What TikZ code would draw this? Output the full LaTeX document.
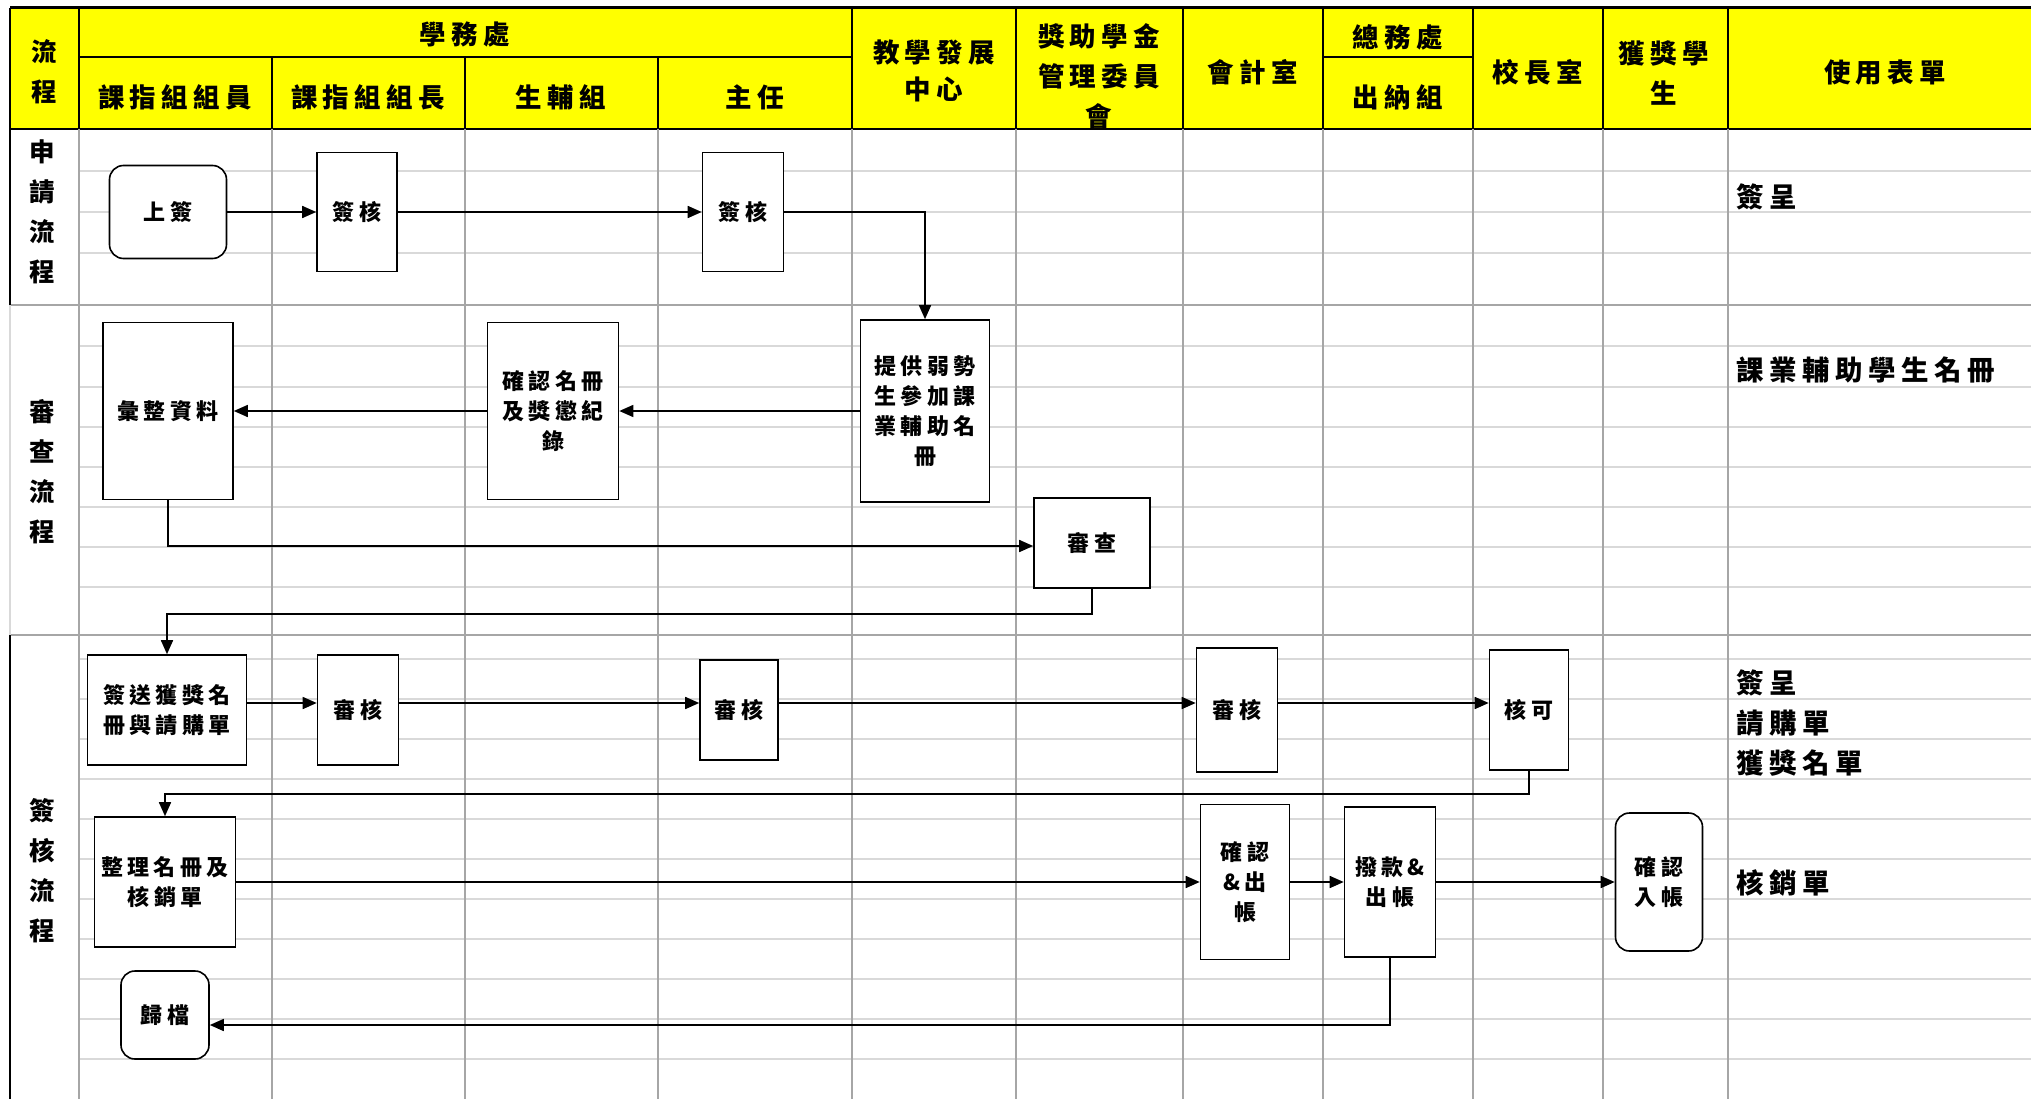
\documentclass[tikz,border=0pt]{standalone}
\usepackage{fontspec}
\newfontfamily\cjk[LetterSpace=20]{Noto Sans CJK TC}
\usetikzlibrary{arrows.meta, calc}
\definecolor{hdryellow}{HTML}{FFFF00}
\definecolor{lanegray}{HTML}{A6A6A6}
\definecolor{rowgray}{HTML}{D9D9D9}

\begin{document}
\begin{tikzpicture}[x=1pt, y=-1pt,
  hdr/.style={font=\cjk\bfseries\fontsize{26.5}{40}\selectfont, align=center, inner sep=0pt},
  lanelbl/.style={hdr, font=\cjk\bfseries\fontsize{25.5}{40}\selectfont},
  procbox/.style={draw, fill=white, line width=1.6pt, align=center, inner sep=2pt,
    font=\cjk\bfseries\fontsize{22}{30}\selectfont},
  termbox/.style={procbox, rounded corners=14pt},
  formtext/.style={anchor=west, inner sep=0pt, font=\cjk\bfseries\fontsize{27.5}{30}\selectfont},
  flow/.style={line width=1.6pt, -{Triangle[length=14pt, width=12pt]}}]

  \useasboundingbox (0,0) rectangle (2031,1099);
  \clip (0,0) rectangle (2031,1099);

  % header band
  \fill[hdryellow] (10,8) rectangle (2040,129);
  \foreach \x in {79,852,1016,1183,1323,1473,1603,1728}
    \draw[line width=2pt] (\x,8) -- (\x,129);
  \foreach \x in {272,465,658}
    \draw[line width=2pt] (\x,57) -- (\x,129);
  \draw[line width=2pt] (79,57) -- (852,57) (1323,57) -- (1473,57);
  \draw[line width=2pt] (10,8) -- (10,129) -- (2040,129);
  \draw[line width=3pt] (10,8) -- (2040,8);

  % body grid
  \foreach \y in {171,212,253,346,387,427,467,507,547,587,659,699,739,779,819,859,899,939,979,1019,1059}
    \draw[rowgray, line width=2pt] (79,\y) -- (2040,\y);
  \foreach \x in {79,272,465,658,852,1016,1183,1323,1473,1603,1728}
    \draw[lanegray, line width=1.5pt] (\x,129) -- (\x,1099);
  \draw[lanegray, line width=2pt] (10,305) -- (2040,305) (10,635) -- (2040,635);
  \draw[line width=1.5pt] (10,129) -- (10,305);
  \draw[rowgray, line width=1.5pt] (10,305) -- (10,635);
  \draw[line width=1.5pt] (10,635) -- (10,1099);

  % header texts
  \node[lanelbl] (hflow) at (44,72) {流\\程};
  \node[hdr] (hstu) at (465,34) {學務處};
  \node[hdr] (hmem) at (175,97) {課指組組員};
  \node[hdr] (hlead) at (368,97) {課指組組長};
  \node[hdr] (hguide) at (561,97) {生輔組};
  \node[hdr] (hdir) at (755,97) {主任};
  \node[hdr, font=\cjk\bfseries\fontsize{26.5}{37}\selectfont] (hteach) at (934,71) {教學發展\\中心};
  \node[hdr] (hfund) at (1099,76) {獎助學金\\管理委員\\會};
  \node[hdr] (hacc) at (1253,72) {會計室};
  \node[hdr] (hgen) at (1398,37) {總務處};
  \node[hdr] (hcash) at (1398,97) {出納組};
  \node[hdr] (hpres) at (1538,72) {校長室};
  \node[hdr] (hwin) at (1664,73) {獲獎學\\生};
  \node[hdr] (hform) at (1885,72) {使用表單};

  % lane labels
  \node[lanelbl] (lapply) at (42,212) {申\\請\\流\\程};
  \node[lanelbl] (lreview) at (42,472) {審\\查\\流\\程};
  \node[lanelbl] (lsign) at (42,871) {簽\\核\\流\\程};

  % application
  \node[termbox, minimum width=117pt, minimum height=93pt] (shang) at (168,212) {上簽};
  \node[procbox, minimum width=80pt, minimum height=119pt] (qianA) at (357,212) {簽核};
  \node[procbox, minimum width=81pt, minimum height=119pt] (qianB) at (743,212) {簽核};

  % review
  \node[procbox, minimum width=129pt, minimum height=182pt] (tigong) at (925,411) {提供弱勢\\生參加課\\業輔助名\\冊};
  \node[procbox, minimum width=131pt, minimum height=177pt] (queren) at (553,411) {確認名冊\\及獎懲紀\\錄};
  \node[procbox, minimum width=130pt, minimum height=177pt] (huizheng) at (168,411) {彙整資料};
  \node[procbox, minimum width=116pt, minimum height=90pt] (shencha) at (1092,543) {審查};

  % signing
  \node[procbox, minimum width=159pt, minimum height=110pt] (songsong) at (167,710) {簽送獲獎名\\冊與請購單};
  \node[procbox, minimum width=81pt, minimum height=110pt] (shenheA) at (358,710) {審核};
  \node[procbox, minimum width=78pt, minimum height=100pt] (shenheB) at (739,710) {審核};
  \node[procbox, minimum width=81pt, minimum height=124pt] (shenheC) at (1237,710) {審核};
  \node[procbox, minimum width=79pt, minimum height=120pt] (heke) at (1529,710) {核可};
  \node[procbox, minimum width=141pt, minimum height=130pt] (zhengli) at (165,882) {整理名冊及\\核銷單};
  \node[procbox, minimum width=89pt, minimum height=155pt] (churu) at (1245,882) {確認\\\&出\\帳};
  \node[procbox, minimum width=91pt, minimum height=150pt] (bokuan) at (1390,882) {撥款\&\\出帳};
  \node[termbox, minimum width=87pt, minimum height=138pt] (ruzhang) at (1659,882) {確認\\入帳};
  \node[termbox, minimum width=88pt, minimum height=88pt] (guidang) at (165,1015) {歸檔};

  % forms used
  \node[formtext] (fa) at (1736,197) {簽呈};
  \node[formtext] (fb) at (1736,370) {課業輔助學生名冊};
  \node[formtext] (fc) at (1736,683) {簽呈};
  \node[formtext] (fd) at (1736,723) {請購單};
  \node[formtext] (fe) at (1736,763) {獲獎名單};
  \node[formtext] (ff) at (1736,883) {核銷單};

  % connectors
  \draw[flow] (shang.east) -- (qianA.west);
  \draw[flow] (qianA.east) -- (qianB.west);
  \draw[flow] (qianB.east) -| (tigong.north);
  \draw[flow] (tigong.west) -- (queren.east);
  \draw[flow] (queren.west) -- (huizheng.east);
  \draw[flow] (huizheng.south) |- ([yshift=-3pt]shencha.west);
  \draw[flow] (shencha.south) -- ++(0,25) -| (songsong.north);
  \draw[flow] ([yshift=7pt]songsong.east) -- ([yshift=7pt]shenheA.west);
  \draw[flow] ([yshift=7pt]shenheA.east) -- ([yshift=7pt]shenheB.west);
  \draw[flow] ([yshift=7pt]shenheB.east) -- ([yshift=7pt]shenheC.west);
  \draw[flow] ([yshift=7pt]shenheC.east) -- ([yshift=7pt]heke.west);
  \draw[flow] (heke.south) -- ++(0,23) -| (zhengli.north);
  \draw[flow] (zhengli.east) -- (churu.west);
  \draw[flow] (churu.east) -- (bokuan.west);
  \draw[flow] (bokuan.east) -- (ruzhang.west);
  \draw[flow] (bokuan.south) |- ([yshift=-10pt]guidang.east);
\end{tikzpicture}
\end{document}
